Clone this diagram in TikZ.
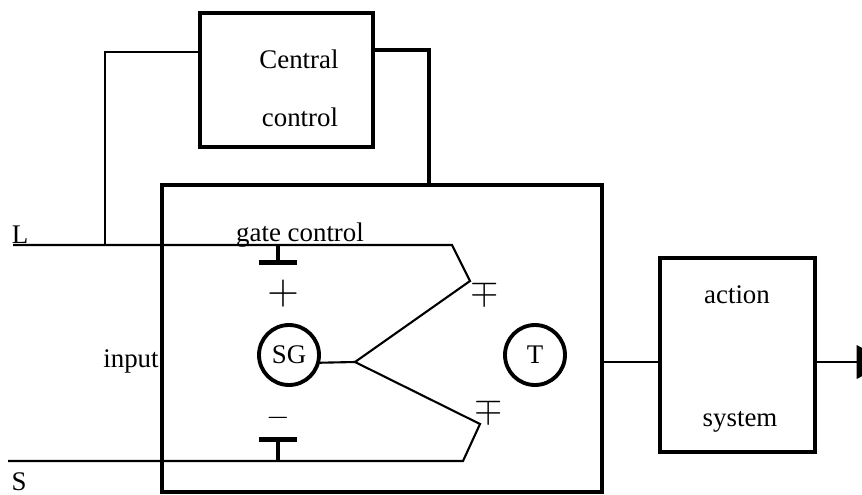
\documentclass[tikz,border=0pt]{standalone}
\usepackage{fontspec}
\setmainfont{Liberation Serif}
\usepackage{tikz}
\usetikzlibrary{arrows.meta}
\tikzset{blk/.style={draw,line width=2pt,inner sep=0pt}}
\tikzset{cell/.style={circle,draw,line width=2.2pt,minimum size=1.2cm,inner sep=0pt,font=\fontsize{15.3}{18}\selectfont}}
\tikzset{wire/.style={line width=1.2pt}}
\tikzset{lbl/.style={font=\fontsize{15.3}{18}\selectfont,inner sep=0pt,anchor=base}}
\tikzset{gate/.style={line width=2.4pt,-{Bar[width=21.5pt,line width=3pt]}}}
\tikzset{sgn/.style={inner sep=0pt,font=\fontsize{24}{26}\selectfont}}

\begin{document}
\begin{tikzpicture}[x=0.02cm,y=-0.02cm]
\useasboundingbox (0,0) rectangle (862,494);
\clip (0,0) rectangle (862,494);
\node[blk,minimum width=3.46cm,minimum height=2.68cm] (CC) at (286.5,80) {};
\node[blk,minimum width=8.8cm,minimum height=6.14cm] (MB) at (382,338.5) {};
\node[blk,minimum width=3.1cm,minimum height=3.88cm] (AS) at (737.5,355) {};
\node[cell] (SG) at (289,355) {SG};
\node[cell] (T) at (535,355) {T};
\node[lbl] (cc1) at (299,68) {Central};
\node[lbl] (cc2) at (300,126) {control};
\node[lbl] (as1) at (737,303) {action};
\node[lbl] (as2) at (740,426) {system};
\node[lbl] (gc) at (300,241) {gate control};
\node[lbl,anchor=base east] (inp) at (159,367) {input};
\node[lbl] (Ltx) at (20,243) {L};
\node[lbl] (Stx) at (19,490) {S};
\node[sgn] (p1) at (283,294) {$+$};
\node[sgn,font=\fontsize{16}{18}\selectfont] (m1) at (278,418) {$-$};
\node[sgn,font=\fontsize{21}{24}\selectfont] (mp1) at (485,292) {$\mp$};
\node[sgn,font=\fontsize{21}{24}\selectfont] (mp2) at (489,410) {$\mp$};
\coordinate (Lin) at (13,245); \coordinate (Lk) at (452,245); \coordinate (Lt) at (470,281);
\coordinate (Sin) at (8,461); \coordinate (Sk) at (463,461); \coordinate (St) at (480,424);
\coordinate (J) at (355,362);
\coordinate (ccl) at (105,52); \coordinate (ccr) at (429,50);
\coordinate (gu) at (278,245); \coordinate (gd) at (278,461);
\coordinate (out) at (890,362);
\draw[wire] (Lin) -- (Lk) -- (Lt) -- (J) -- (St) -- (Sk) -- (Sin);
\draw[wire] (SG.-14) -- (J);
\draw[wire] (CC.west |- ccl) -- (ccl) -- (ccl |- Lin);
\draw[line width=2pt] (CC.east |- ccr) -- (ccr) -- (ccr |- MB.north);
\draw[wire] (MB.east |- J) -- (AS.west |- J);
\draw[wire,-{Triangle[length=19pt,width=19pt]}] (AS.east |- J) -- (out);
\draw[gate] (gu) -- ++(0,20);
\draw[gate] (gd) -- ++(0,-24);
\end{tikzpicture}
\end{document}
